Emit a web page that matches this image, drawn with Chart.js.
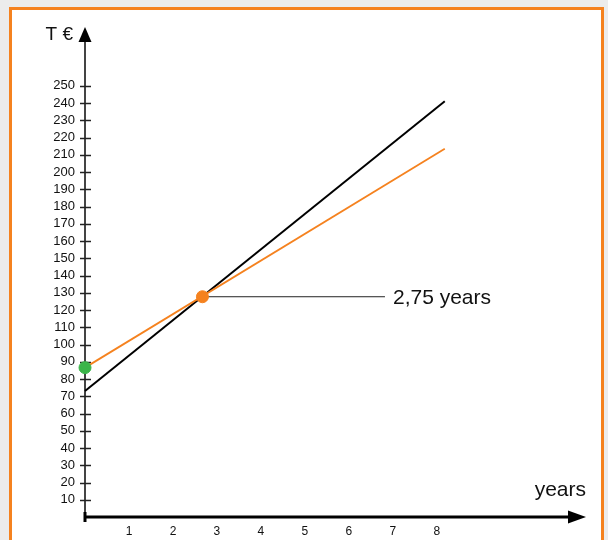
<!DOCTYPE html>
<html>
<head>
<meta charset="utf-8">
<script src="https://cdn.jsdelivr.net/npm/chart.js@4.4.1/dist/chart.umd.min.js"></script>
<style>
  html, body { margin: 0; padding: 0; background: #ececec; }
  #wrap { position: relative; width: 608px; height: 540px; overflow: hidden; }
  #frame {
    position: absolute; left: 9px; top: 7px; width: 589px; height: 600px;
    border: 3px solid #f5821f; background: #fff;
  }
  #chart { position: absolute; left: 0; top: 0; }
</style>
</head>
<body>
<div id="wrap">
  <div id="frame"></div>
  <canvas id="chart" width="608" height="540"></canvas>
</div>
<script>
// values
const years = [0, 8.18];
const costBlack = [73, 241];
const costOrange = [86.6, 213.5];
const breakEvenYear = 2.67;
const breakEvenValue = 127.7;
const leaderEndYear = 6.82;
const breakEvenLabel = '2,75 years';
const yTickLabels = [10, 20, 30, 40, 50, 60, 70, 80, 90, 100, 110, 120, 130, 140, 150, 160, 170, 180, 190, 200, 210, 220, 230, 240, 250];
const xTickLabels = [1, 2, 3, 4, 5, 6, 7, 8];
const yAxisTitle = 'T €';
const xAxisTitle = 'years';

const ORANGE = '#f5821f';
const GREEN = '#3bb54a';

Chart.defaults.font.family = '"Liberation Sans", Arial, sans-serif';
Chart.defaults.color = '#111';

const axesPlugin = {
  id: 'arrowAxes',
  beforeDatasetsDraw(chart) {
    const { ctx, chartArea: a, scales: { x, y } } = chart;
    const x0 = x.getPixelForValue(0);
    const y0 = y.getPixelForValue(0);
    ctx.save();

    // vertical axis
    ctx.strokeStyle = '#444';
    ctx.lineWidth = 2;
    ctx.beginPath();
    ctx.moveTo(x0, a.top + 12);
    ctx.lineTo(x0, y0 + 5);
    ctx.stroke();

    // y tick marks
    ctx.lineWidth = 1.5;
    ctx.strokeStyle = '#222';
    yTickLabels.forEach(v => {
      const py = Math.round(y.getPixelForValue(v)) + 0.5;
      ctx.beginPath();
      ctx.moveTo(x0 - 5, py);
      ctx.lineTo(x0 + 6, py);
      ctx.stroke();
    });

    // horizontal axis
    ctx.strokeStyle = '#000';
    ctx.lineWidth = 3;
    ctx.beginPath();
    ctx.moveTo(x0, y0);
    ctx.lineTo(a.right - 12, y0);
    ctx.stroke();
    ctx.beginPath();
    ctx.moveTo(x0, y0 - 5);
    ctx.lineTo(x0, y0 + 5);
    ctx.stroke();

    // arrows
    ctx.fillStyle = '#000';
    ctx.beginPath();
    ctx.moveTo(x0, a.top - 1);
    ctx.lineTo(x0 - 6.5, a.top + 14);
    ctx.lineTo(x0 + 6.5, a.top + 14);
    ctx.closePath();
    ctx.fill();
    ctx.beginPath();
    ctx.moveTo(a.right + 4, y0);
    ctx.lineTo(a.right - 14, y0 - 6.5);
    ctx.lineTo(a.right - 14, y0 + 6.5);
    ctx.closePath();
    ctx.fill();

    // axis titles
    ctx.fillStyle = '#111';
    ctx.font = '19px "Liberation Sans", Arial, sans-serif';
    ctx.textAlign = 'right';
    ctx.textBaseline = 'middle';
    ctx.fillText(yAxisTitle, x0 - 12, a.top + 7);
    ctx.font = '21px "Liberation Sans", Arial, sans-serif';
    ctx.fillText(xAxisTitle, a.right + 4, y0 - 27);
    ctx.restore();
  },
  afterDatasetsDraw(chart) {
    const { ctx, scales: { x, y } } = chart;
    ctx.save();
    ctx.fillStyle = '#111';
    ctx.font = '21px "Liberation Sans", Arial, sans-serif';
    ctx.textAlign = 'left';
    ctx.textBaseline = 'middle';
    ctx.fillText(breakEvenLabel, x.getPixelForValue(leaderEndYear) + 8, y.getPixelForValue(breakEvenValue) + 1);
    ctx.restore();
  }
};

new Chart(document.getElementById('chart'), {
  type: 'scatter',
  data: {
    datasets: [
      {
        data: [{ x: years[0], y: costOrange[0] }],
        backgroundColor: GREEN, borderColor: GREEN,
        pointRadius: 6, clip: false
      },
      {
        data: [{ x: breakEvenYear, y: breakEvenValue }],
        backgroundColor: ORANGE, borderColor: ORANGE,
        pointRadius: 6, clip: false
      },
      {
        data: [{ x: breakEvenYear, y: breakEvenValue }, { x: leaderEndYear, y: breakEvenValue }],
        showLine: true, borderColor: '#222', borderWidth: 1, pointRadius: 0
      },
      {
        data: years.map((v, i) => ({ x: v, y: costOrange[i] })),
        showLine: true, borderColor: ORANGE, borderWidth: 1.8, pointRadius: 0, clip: false
      },
      {
        data: years.map((v, i) => ({ x: v, y: costBlack[i] })),
        showLine: true, borderColor: '#000', borderWidth: 2, pointRadius: 0, clip: false
      }
    ]
  },
  options: {
    responsive: false,
    animation: false,
    layout: { padding: { top: 28, right: 26, left: 0, bottom: 0 } },
    plugins: { legend: { display: false }, tooltip: { enabled: false } },
    scales: {
      x: {
        type: 'linear', min: 0, max: 11.3,
        grid: { display: false, drawTicks: false },
        border: { display: false },
        ticks: {
          stepSize: 1, autoSkip: false, maxRotation: 0, padding: 7,
          font: { size: 12 },
          callback: v => xTickLabels.includes(v) ? String(v) : ''
        },
        afterFit: s => { s.height = 23; }
      },
      y: {
        type: 'linear', min: 0, max: 283.5,
        grid: { display: false, drawTicks: false },
        border: { display: false },
        ticks: {
          stepSize: 10, autoSkip: false, padding: 10,
          font: { size: 13 },
          callback: v => yTickLabels.includes(v) ? String(v) : ''
        },
        afterFit: s => { s.width = 85; }
      }
    }
  },
  plugins: [axesPlugin]
});
</script>
</body>
</html>
